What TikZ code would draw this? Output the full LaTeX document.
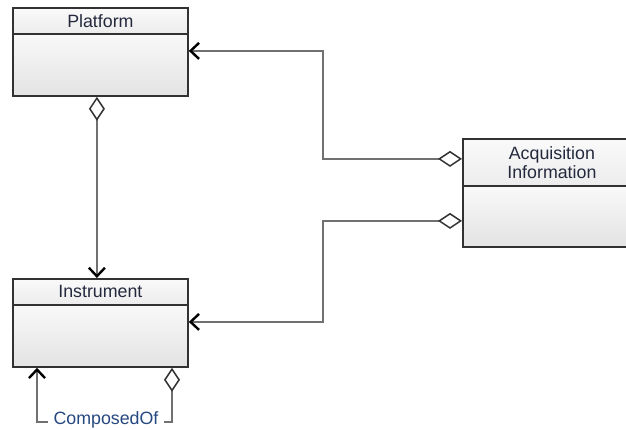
\documentclass[tikz,border=0pt]{standalone}
\usepackage{fontspec}
\setmainfont{Liberation Sans}
\usetikzlibrary{arrows.meta,calc}
\definecolor{boxline}{RGB}{50,50,50}
\definecolor{connc}{RGB}{112,112,112}
\definecolor{txt}{RGB}{36,42,62}
\definecolor{lbl}{RGB}{38,72,128}
\tikzset{
  classpart/.style={draw=boxline, line width=1.8pt, anchor=north west, inner sep=0pt,
    text=txt, font=\fontsize{17.8}{20}\selectfont, align=center},
  hdr/.style={classpart, top color=gray!4, bottom color=gray!15},
  bdy/.style={classpart, top color=gray!5, bottom color=gray!22},
  conn/.style={draw=connc, line width=2.2pt},
  aggarrow/.style={conn, {Diamond[fill=white,color=boxline,length=24pt,width=16pt,line width=1.5pt]}-{Straight Barb[color=black,length=8.5pt,width=16pt,line width=2.4pt]}},
  lbltext/.style={fill=white, text=lbl, inner xsep=6pt, inner ysep=1pt, font=\fontsize{17.8}{20}\selectfont, anchor=base}
}
\begin{document}
\begin{tikzpicture}[x=1pt,y=-1pt]
\useasboundingbox (0,0) rectangle (626,429);
\fill[white] (0,0) rectangle (626,429);
\clip (0,0) rectangle (626,429);
% Platform
\node[bdy, minimum width=175pt, minimum height=62pt] (platbdy) at (12,33) {};
\node[hdr, minimum width=175pt, minimum height=26pt] (plathdr) at (12,7) {Platform};
% Instrument
\node[bdy, minimum width=175pt, minimum height=62pt] (instbdy) at (12,304) {};
\node[hdr, minimum width=175pt, minimum height=26pt] (insthdr) at (12,278) {Instrument};
% Acquisition Information
\node[bdy, minimum width=178pt, minimum height=61pt] (acqbdy) at (462,185) {};
\node[hdr, minimum width=178pt, minimum height=47pt] (acqhdr) at (462,138) {Acquisition\\[-1pt]Information};
% connectors
\draw[aggarrow] ($(platbdy.south)+(-3.5,0)$) -- ($(insthdr.north)+(-3.5,0)$);
\draw[aggarrow] ($(acqhdr.west)+(0,-3.5)$) -- ++(-139,0) |- ($(platbdy.east)+(0,-14)$);
\draw[aggarrow] ($(acqbdy.west)+(0,4.5)$) -- ++(-139,0) |- ($(instbdy.east)+(0,-14)$);
\coordinate (loopR) at ($(instbdy.south west)+(160,54)$);
\coordinate (loopL) at ($(instbdy.south west)+(25,54)$);
\draw[aggarrow] ($(instbdy.south west)+(160,0)$) -- (loopR) -- (loopL) -- ($(instbdy.south west)+(25,0)$);
\node[lbltext] (composed) at (106,424.5) {ComposedOf};
\end{tikzpicture}
\end{document}
